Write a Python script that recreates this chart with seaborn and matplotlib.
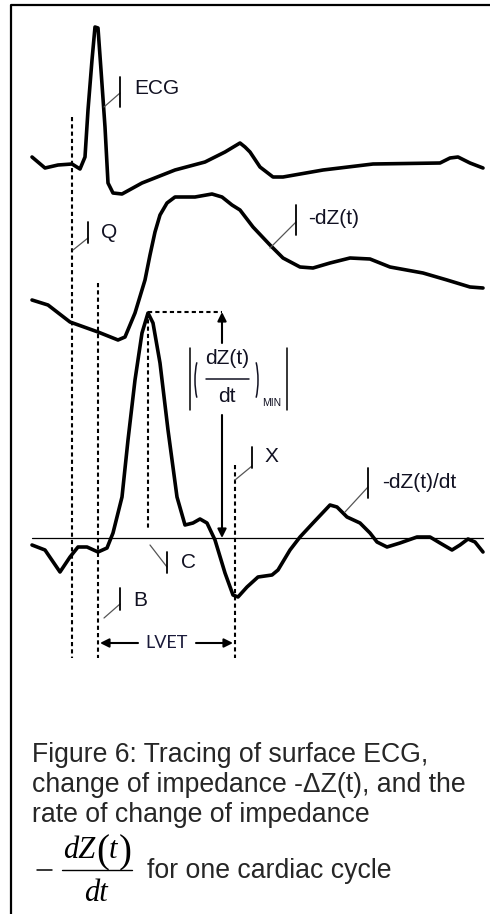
import matplotlib
matplotlib.use('Agg')
import matplotlib.pyplot as plt
from matplotlib.patches import Arc
import seaborn as sns

# Trazados (t en unidades de la figura, amplitud hacia abajo)
ecg_t = [32, 45, 58, 72, 80, 85, 88, 92, 95, 98, 101, 105, 108, 113, 122, 142, 175, 205, 225,
         240, 245, 250, 260, 273, 283, 323, 373, 440, 450, 458, 470, 483]
ecg_v = [157, 168, 165, 164, 169, 157, 110, 60, 27, 28, 70, 127, 183, 193, 194, 183, 170, 162, 152,
         143, 147, 152, 167, 177, 177, 170, 164, 163, 158, 157, 163, 168]

dz_t = [32, 48, 70, 98, 118, 125, 135, 145, 150, 155, 160, 167, 175, 195, 212, 222, 232, 240,
        253, 270, 283, 300, 313, 330, 350, 370, 390, 423, 447, 470, 483]
dz_v = [300, 305, 322, 332, 340, 337, 313, 280, 255, 232, 215, 203, 197, 197, 194, 197, 205, 210,
        227, 245, 258, 267, 268, 263, 258, 259, 267, 273, 280, 287, 288]

dzdt_t = [32, 45, 60, 70, 78, 87, 98, 107, 113, 122, 128, 135, 142, 148, 153, 160, 168, 177, 185,
          193, 200, 207, 215, 225, 233, 238, 247, 258, 272, 278, 290, 300, 313, 330, 337, 347, 360,
          370, 377, 387, 400, 417, 430, 440, 452, 460, 468, 475, 483]
dzdt_v = [545, 550, 572, 557, 547, 547, 552, 548, 533, 497, 440, 380, 333, 313, 323, 363, 430, 497, 525,
          523, 519, 523, 540, 573, 595, 597, 587, 577, 575, 570, 550, 537, 523, 505, 507, 517, 523,
          533, 542, 547, 543, 537, 537, 543, 550, 545, 539, 542, 552]

baseline = 538
q_t, b_t, c_t, x_t = 72, 98, 148, 235
dzdt_peak = 312

sns.set_style('white')
plt.rcParams['font.family'] = ['Liberation Sans', 'DejaVu Sans']

fig = plt.figure(figsize=(4.9, 9.14), dpi=100)
ax = fig.add_axes([0, 0, 1, 1])
ax.set_xlim(0, 490)
ax.set_ylim(914, 0)
ax.axis('off')

# marco
ax.plot([11, 11, 490], [914, 5, 5], color='black', lw=1.6, solid_capstyle='projecting')

# trazados
for t, v in [(ecg_t, ecg_v), (dz_t, dz_v), (dzdt_t, dzdt_v)]:
    sns.lineplot(x=t, y=v, ax=ax, color='black', linewidth=2.6, sort=False, estimator=None,
                 solid_joinstyle='round', solid_capstyle='round')
ax.plot([32, 483], [baseline, baseline], color='black', lw=0.9)

# líneas discontinuas
dash = dict(color='black', lw=1.5, linestyle=(0, (2, 1.5)))
ax.plot([q_t, q_t], [117, 658], **dash)
ax.plot([b_t, b_t], [283, 658], **dash)
ax.plot([x_t, x_t], [465, 658], **dash)
ax.plot([c_t, c_t], [dzdt_peak, 530], **dash)
ax.plot([c_t, 222], [dzdt_peak, dzdt_peak], **dash)

arrow = dict(arrowstyle='-|>', color='black', lw=1.5, mutation_scale=13, shrinkA=0, shrinkB=0)
ax.annotate('', xy=(222, dzdt_peak), xytext=(222, 343), arrowprops=arrow)
ax.annotate('', xy=(222, baseline), xytext=(222, 415), arrowprops=arrow)

# |(dZ(t)/dt)_MIN|
tinta = '#111122'
ax.plot([190, 190], [348, 410], color='black', lw=1.1)
ax.plot([287, 287], [348, 410], color='black', lw=1.1)
ax.add_patch(Arc((204, 380), 18, 58, theta1=112, theta2=248, color=tinta, lw=1.1))
ax.add_patch(Arc((249, 380), 18, 58, theta1=-68, theta2=68, color=tinta, lw=1.1))
ax.text(227, 359, 'dZ(t)', fontsize=15, ha='center', va='center', color=tinta)
ax.plot([206, 249], [379, 379], color=tinta, lw=1.1)
ax.text(227, 397, 'dt', fontsize=15, ha='center', va='center', color=tinta)
ax.text(272, 403, 'MIN', fontsize=7.5, ha='center', va='center', color=tinta)

# LVET
ax.annotate('', xy=(b_t + 2, 643), xytext=(138, 643), arrowprops=arrow)
ax.annotate('', xy=(x_t - 2, 643), xytext=(196, 643), arrowprops=arrow)
ax.text(167, 643, 'LVET', family='Lato', fontsize=13, ha='center', va='center', color='#1a1a3a')


def etiqueta(x0, y0, xb, yl, y1, y2, txt, tx, ty):
    ax.plot([x0, xb], [y0, yl], color='#555555', lw=0.9)
    ax.plot([xb, xb], [y1, y2], color='black', lw=1.3)
    ax.text(tx, ty, txt, fontsize=15, ha='left', va='center', color=tinta)


etiqueta(104, 107, 120, 93, 77, 107, 'ECG', 134, 89)
etiqueta(270, 248, 296, 222, 205, 235, '-dZ(t)', 308, 218)
etiqueta(73, 250, 88, 238, 222, 243, 'Q', 101, 233)
etiqueta(235, 480, 252, 466, 447, 468, 'X', 265, 457)
etiqueta(345, 512, 368, 487, 468, 498, '-dZ(t)/dt', 382, 483)
etiqueta(104, 618, 120, 604, 588, 610, 'B', 133, 600)
etiqueta(150, 545, 167, 567, 552, 573, 'C', 181, 563)

# pie de figura
cap = ['Figure 6: Tracing of surface ECG,',
       'change of impedance -\u0394Z(t), and the',
       'rate of change of impedance']
for i, linea in enumerate(cap):
    ax.text(32, 762 + 30 * i, linea, fontsize=19.2, ha='left', va='baseline')

serif = dict(family='Liberation Serif', va='baseline', color='black')
ax.plot([37, 52], [870, 870], color='black', lw=1.1)
ax.plot([62, 132], [870, 870], color='black', lw=1.0)
ax.text(63, 858, 'dZ', fontsize=22, style='italic', ha='left', **serif)
ax.text(96, 862, '(', fontsize=28, ha='left', **serif)
ax.text(109, 858, 't', fontsize=22, style='italic', ha='left', **serif)
ax.text(119, 862, ')', fontsize=28, ha='left', **serif)
ax.text(96, 901, 'dt', fontsize=22, style='italic', ha='center', **serif)
ax.text(147, 878, 'for one cardiac cycle', fontsize=19.2, ha='left', va='baseline')

plt.savefig('out.png', dpi=100)
